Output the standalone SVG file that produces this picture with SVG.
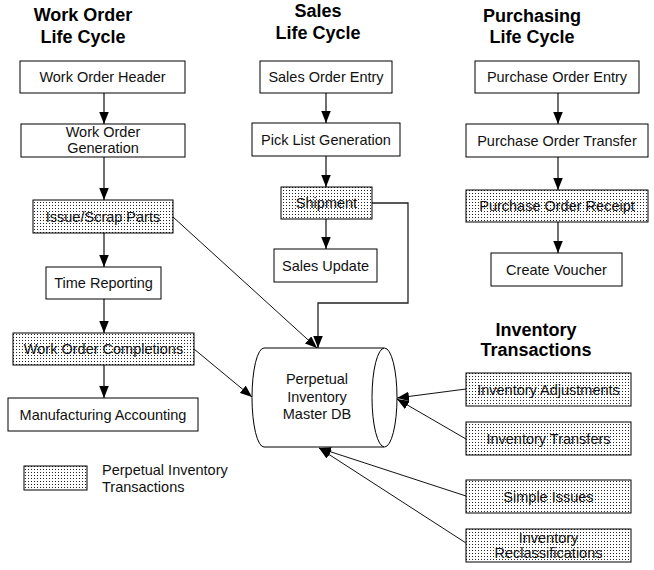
<svg xmlns="http://www.w3.org/2000/svg" width="654" height="570" viewBox="0 0 654 570">
<style>
.box{fill:#fff;stroke:#000;stroke-width:1}
.dot{fill:url(#dots);stroke:#000;stroke-width:1}
.t{font-family:"Liberation Sans",Arial,sans-serif;font-size:14.5px;fill:#111;text-anchor:middle}
.tl{font-family:"Liberation Sans",Arial,sans-serif;font-size:14.5px;fill:#111}
.h{font-family:"Liberation Sans",Arial,sans-serif;font-size:18px;font-weight:bold;fill:#000;text-anchor:middle}
.c{fill:none;stroke:#222;stroke-width:1.3;marker-end:url(#arr)}
.d{fill:none;stroke:#111;stroke-width:1;marker-end:url(#arr)}
</style>
<defs>
<pattern id="dots" width="3" height="3" patternUnits="userSpaceOnUse">
<rect width="3" height="3" fill="#fff"/>
<rect x="1" y="1" width="1" height="1" fill="#222"/>
</pattern>
<marker id="arr" markerUnits="userSpaceOnUse" markerWidth="12" markerHeight="10" refX="12" refY="4.75" orient="auto">
<path d="M0,0 L12,4.75 L0,9.5 z" fill="#000"/>
</marker>
</defs>
<rect width="654" height="570" fill="#fff"/>

<g id="titles">
<text class="h" x="83" y="21">Work Order</text>
<text class="h" x="83" y="43">Life Cycle</text>
<text class="h" x="318" y="17">Sales</text>
<text class="h" x="318" y="39">Life Cycle</text>
<text class="h" x="532" y="22">Purchasing</text>
<text class="h" x="532" y="43">Life Cycle</text>
<text class="h" x="536" y="336">Inventory</text>
<text class="h" x="536" y="356">Transactions</text>
</g>

<g id="connectors">
<line class="c" x1="104" y1="93" x2="104" y2="124"/>
<line class="c" x1="104" y1="157" x2="104" y2="200"/>
<line class="c" x1="104" y1="233" x2="104" y2="267"/>
<line class="c" x1="104" y1="299" x2="104" y2="333"/>
<line class="c" x1="104" y1="365" x2="104" y2="398"/>
<line class="c" x1="326" y1="93" x2="326" y2="123"/>
<line class="c" x1="326" y1="156" x2="326" y2="187"/>
<line class="c" x1="326" y1="219" x2="326" y2="249"/>
<line class="c" x1="558" y1="93" x2="558" y2="124"/>
<line class="c" x1="558" y1="157" x2="558" y2="190"/>
<line class="c" x1="558" y1="222" x2="558" y2="253"/>
<polyline class="c" points="372,203 408,203 408,303 318,303 318,348"/>
<line class="d" x1="173" y1="217" x2="317" y2="348"/>
<line class="d" x1="194" y1="349" x2="252" y2="397"/>
<line class="d" x1="466" y1="389" x2="397" y2="398"/>
<line class="d" x1="466" y1="439" x2="397" y2="399"/>
<line class="d" x1="466" y1="496" x2="319" y2="448"/>
<line class="d" x1="466" y1="543" x2="319" y2="448"/>
</g>

<g id="wo-header"><rect class="box" x="20" y="61" width="165" height="32"/><text class="t" x="102.5" y="82">Work Order Header</text></g>
<g id="wo-generation"><rect class="box" x="21" y="124" width="164" height="33"/><text class="t" x="103" y="137">Work Order</text><text class="t" x="103" y="153">Generation</text></g>
<g id="issue-scrap"><rect class="dot" x="33" y="200" width="140" height="33"/><text class="t" x="103" y="221.5">Issue/Scrap Parts</text></g>
<g id="time-reporting"><rect class="box" x="46" y="267" width="115" height="32"/><text class="t" x="103.5" y="288">Time Reporting</text></g>
<g id="wo-completions"><rect class="dot" x="13" y="333" width="181" height="32"/><text class="t" x="103.5" y="354">Work Order Completions</text></g>
<g id="mfg-accounting"><rect class="box" x="8" y="398" width="190" height="33"/><text class="t" x="103" y="419.5">Manufacturing Accounting</text></g>

<g id="sales-entry"><rect class="box" x="260" y="61" width="132" height="32"/><text class="t" x="326" y="82">Sales Order Entry</text></g>
<g id="pick-list"><rect class="box" x="252" y="123" width="148" height="33"/><text class="t" x="326" y="144.5">Pick List Generation</text></g>
<g id="shipment"><rect class="dot" x="281" y="187" width="91" height="32"/><text class="t" x="326.5" y="208">Shipment</text></g>
<g id="sales-update"><rect class="box" x="274" y="249" width="103" height="33"/><text class="t" x="325.5" y="270.5">Sales Update</text></g>

<g id="po-entry"><rect class="box" x="475" y="61" width="164" height="32"/><text class="t" x="557" y="82">Purchase Order Entry</text></g>
<g id="po-transfer"><rect class="box" x="466" y="124" width="182" height="33"/><text class="t" x="557" y="145.5">Purchase Order Transfer</text></g>
<g id="po-receipt"><rect class="dot" x="466" y="190" width="182" height="32"/><text class="t" x="557" y="211">Purchase Order Receipt</text></g>
<g id="create-voucher"><rect class="box" x="491" y="253" width="131" height="33"/><text class="t" x="556.5" y="274.5">Create Voucher</text></g>

<g id="master-db">
<path d="M264,348 L384,348 A12.5,49.5 0 0 1 384,447 L264,447 A12,49.5 0 0 1 264,348 z" fill="#fff" stroke="none"/>
<path d="M264,348 L384,348 M264,447 L384,447 M264,348 A12,49.5 0 0 0 264,447" fill="none" stroke="#000" stroke-width="1"/>
<ellipse cx="384.5" cy="397.5" rx="12.5" ry="49.5" fill="#fff" stroke="#000" stroke-width="1"/>
<text class="t" x="317" y="384">Perpetual</text>
<text class="t" x="317" y="401.5">Inventory</text>
<text class="t" x="317" y="419">Master DB</text>
</g>

<g id="inv-adjustments"><rect class="dot" x="466" y="373" width="165" height="33"/><text class="t" x="548.5" y="394.5">Inventory Adjustments</text></g>
<g id="inv-transfers"><rect class="dot" x="466" y="422" width="165" height="33"/><text class="t" x="548.5" y="443.5">Inventory Transfers</text></g>
<g id="simple-issues"><rect class="dot" x="466" y="480" width="165" height="33"/><text class="t" x="548.5" y="501.5">Simple Issues</text></g>
<g id="inv-reclass"><rect class="dot" x="466" y="529" width="165" height="33"/><text class="t" x="548.5" y="543">Inventory</text><text class="t" x="548.5" y="558">Reclassifications</text></g>

<g id="legend"><rect class="dot" x="24" y="466" width="63" height="24"/><text class="tl" x="102" y="475">Perpetual Inventory</text><text class="tl" x="102" y="492">Transactions</text></g>
</svg>
